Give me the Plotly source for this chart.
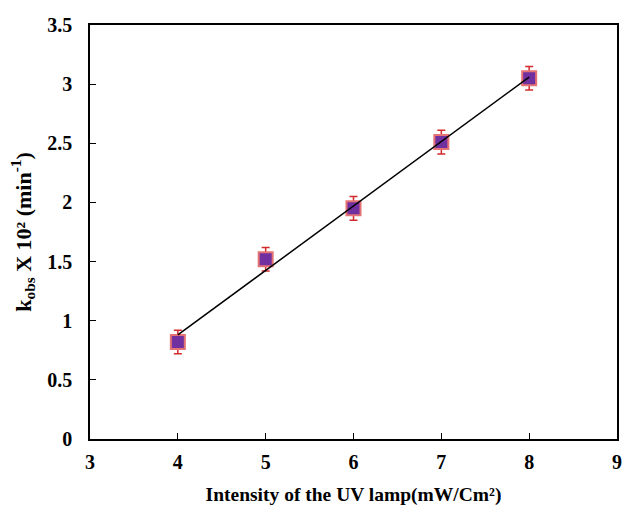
import numpy as np
import plotly.graph_objects as go

# UV lamp intensity (mW/Cm²) and observed rate constant (x 10², min⁻¹)
intensity = [4, 5, 6, 7, 8]
k_obs = [0.82, 1.52, 1.95, 2.51, 3.05]
k_err = [0.1, 0.1, 0.1, 0.1, 0.1]

x_ticks = [3, 4, 5, 6, 7, 8, 9]
x_tick_labels = ["3", "4", "5", "6", "7", "8", "9"]
y_ticks = [0, 0.5, 1, 1.5, 2, 2.5, 3, 3.5]
y_tick_labels = ["0", "0.5", "1", "1.5", "2", "2.5", "3", "3.5"]

# least-squares trend line across the measured range
slope, intercept = np.polyfit(intensity, k_obs, 1)
fit_x = [min(intensity), max(intensity)]
fit_y = [slope * v + intercept for v in fit_x]

font_family = "Liberation Serif"

fig = go.Figure()
fig.add_trace(go.Scatter(
    x=intensity, y=k_obs, mode="markers",
    marker=dict(symbol="square", size=14, color="#7030A0",
                line=dict(color="#E57373", width=2)),
    error_y=dict(type="data", array=k_err, visible=True,
                 color="#D22B2B", thickness=1.5, width=4),
    showlegend=False,
))
fig.add_trace(go.Scatter(
    x=fit_x, y=fit_y, mode="lines",
    line=dict(color="black", width=1.5),
    showlegend=False,
))

axis_common = dict(
    showgrid=False, zeroline=False, showline=True, linecolor="black",
    linewidth=1.5, mirror=True, ticks="inside", ticklen=6, tickwidth=1.2,
    tickcolor="black",
    tickfont=dict(family=font_family, size=20, color="black", weight=700),
)

fig.update_layout(
    width=627, height=507,
    margin=dict(l=90, r=5, t=25, b=66),
    plot_bgcolor="white", paper_bgcolor="white",
    font=dict(family=font_family, color="black", weight=700),
    xaxis=dict(range=[3, 9], tickvals=x_ticks,
               ticktext=[f"<b>{t}</b>" for t in x_tick_labels],
               ticklabelstandoff=4,
               title=dict(text="<b>Intensity of the UV lamp(mW/Cm²)</b>",
                          font=dict(size=19.5), standoff=16),
               **axis_common),
    yaxis=dict(range=[0, 3.5], tickvals=y_ticks,
               ticktext=[f"<b>{t}</b>" for t in y_tick_labels],
               ticklabelstandoff=12,
               title=dict(text="<b>k<sub>obs</sub> X 10² (min<sup>-1</sup>)</b>",
                          font=dict(size=22), standoff=10),
               **axis_common),
)

fig.write_html("out.html")
